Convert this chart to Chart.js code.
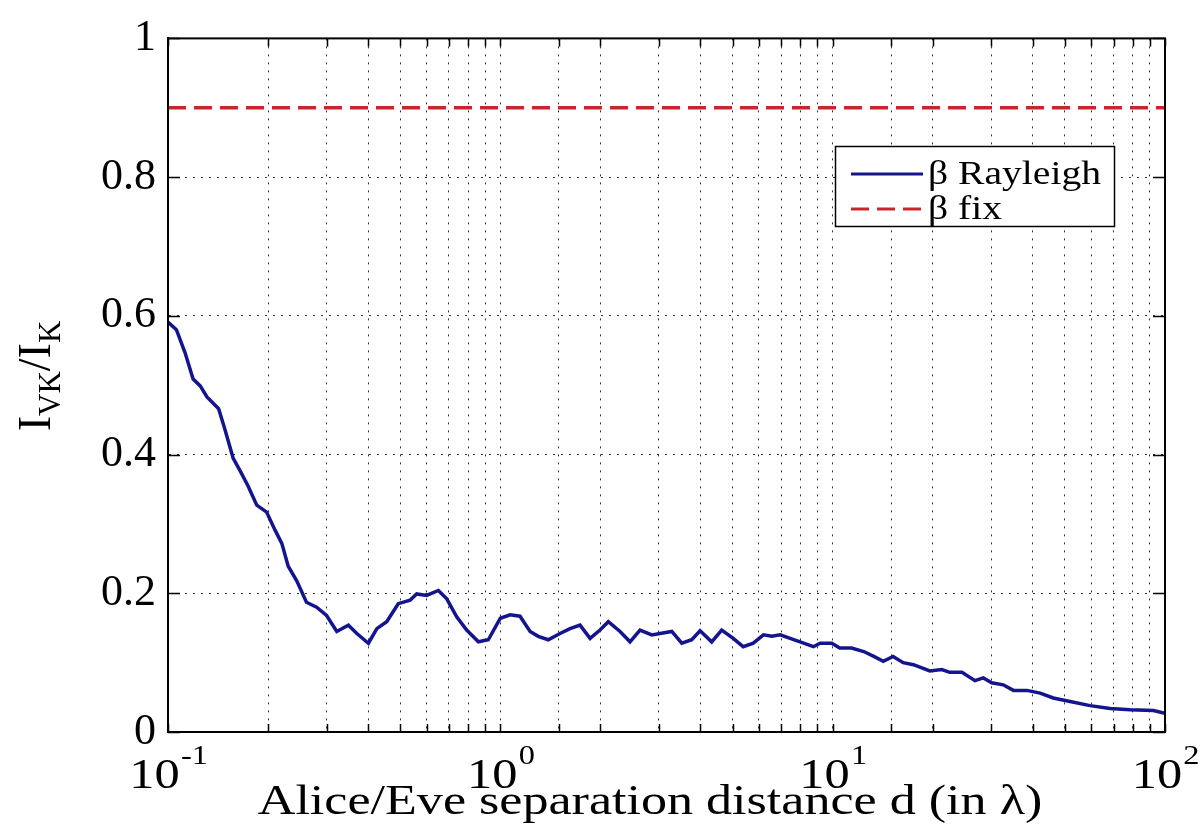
<!DOCTYPE html>
<html>
<head>
<meta charset="utf-8">
<script src="https://cdn.jsdelivr.net/npm/chart.js@4.4.0/dist/chart.umd.min.js"></script>
<style>
  html, body { margin: 0; padding: 0; background: #fff; }
  #wrap { width: 1200px; height: 826px; }
</style>
</head>
<body>
<div id="wrap"><canvas id="ivkChart" width="1200" height="826"></canvas></div>
<script>
// distance d (in lambda) and I_VK/I_K
const distD = [0.100, 0.106, 0.1125, 0.119, 0.125, 0.131, 0.142, 0.148, 0.157, 0.165,
  0.174, 0.185, 0.198, 0.210, 0.220, 0.230, 0.244, 0.261, 0.280, 0.300,
  0.322, 0.349, 0.370, 0.401, 0.425, 0.455, 0.493, 0.535, 0.560, 0.600,
  0.651, 0.690, 0.739, 0.792, 0.859, 0.920, 1.0, 1.07, 1.146, 1.229,
  1.30, 1.394, 1.512, 1.621, 1.737, 1.862, 1.995, 2.113, 2.292, 2.456,
  2.632, 2.856, 3.024, 3.28, 3.516, 3.767, 3.99, 4.325, 4.636, 5.02,
  5.38, 5.77, 6.19, 6.56, 6.95, 7.45, 7.98, 8.75, 9.17, 9.94,
  10.5, 11.4, 12.4, 13.3, 14.2, 15.2, 16.3, 17.5, 19.6, 21.3,
  22.5, 24.5, 26.8, 28.4, 30.1, 32.6, 35.0, 38.4, 42.1, 46.1,
  51.8, 59.5, 68.4, 78.5, 92.3, 100];
const ratioRayleigh = [0.591, 0.580, 0.547, 0.509, 0.499, 0.483, 0.466, 0.438, 0.395, 0.376,
  0.355, 0.327, 0.317, 0.291, 0.272, 0.239, 0.218, 0.187, 0.180, 0.168,
  0.145, 0.154, 0.142, 0.128, 0.149, 0.159, 0.185, 0.190, 0.199, 0.197,
  0.204, 0.192, 0.166, 0.147, 0.130, 0.133, 0.164, 0.169, 0.167, 0.145,
  0.138, 0.133, 0.142, 0.149, 0.154, 0.135, 0.147, 0.159, 0.145, 0.130,
  0.147, 0.140, 0.142, 0.145, 0.128, 0.133, 0.146, 0.130, 0.147, 0.135,
  0.123, 0.128, 0.140, 0.138, 0.140, 0.135, 0.130, 0.123, 0.128, 0.128,
  0.121, 0.121, 0.116, 0.109, 0.102, 0.109, 0.100, 0.097, 0.088, 0.090,
  0.086, 0.086, 0.074, 0.078, 0.071, 0.068, 0.060, 0.060, 0.056, 0.049,
  0.044, 0.038, 0.034, 0.032, 0.031, 0.027];
const fixD = [0.1, 100];
const ratioFix = [0.9, 0.9];

const seriesLabels = ['\u03B2 Rayleigh', '\u03B2 fix'];
const xDecades = [0.1, 1, 10, 100];
const xDecadeExp = ['-1', '0', '1', '2'];
const xTitle = 'Alice/Eve separation distance d (in \u03BB)';
const yTicks = [0, 0.2, 0.4, 0.6, 0.8, 1];

const serif = "'Liberation Serif', 'Times New Roman', serif";
const blue = '#14148f';
const red = '#c8262c';
const stretch = 1.2; // the figure is wider than tall, text is stretched a bit

function toPoints(xs, ys) {
  return xs.map((x, i) => ({ x: x, y: ys[i] }));
}

// frame, inner tick marks, axis texts and legend
const matlabLook = {
  id: 'matlabLook',
  afterDraw(chart) {
    const ctx = chart.ctx;
    const area = chart.chartArea;
    const xs = chart.scales.x;
    const ys = chart.scales.y;

    ctx.save();
    ctx.strokeStyle = '#000';
    ctx.lineWidth = 2;
    ctx.setLineDash([]);
    ctx.strokeRect(area.left, area.top, area.right - area.left, area.bottom - area.top);

    // tick marks pointing inwards
    ctx.lineWidth = 1.5;
    ctx.beginPath();
    xs.ticks.forEach(t => {
      const px = Math.round(xs.getPixelForValue(t.value)) + 0.5;
      ctx.moveTo(px, area.bottom);
      ctx.lineTo(px, area.bottom - 8);
      ctx.moveTo(px, area.top);
      ctx.lineTo(px, area.top + 8);
    });
    yTicks.forEach(v => {
      const py = Math.round(ys.getPixelForValue(v)) + 0.5;
      ctx.moveTo(area.left, py);
      ctx.lineTo(area.left + 12, py);
      ctx.moveTo(area.right, py);
      ctx.lineTo(area.right - 12, py);
    });
    ctx.stroke();

    // x decade labels 10^n
    ctx.fillStyle = '#000';
    ctx.textBaseline = 'alphabetic';
    xDecades.forEach((v, i) => {
      const px = xs.getPixelForValue(v);
      ctx.font = '42px ' + serif;
      const wBase = ctx.measureText('10').width * stretch;
      ctx.font = '27px ' + serif;
      const wExp = ctx.measureText(xDecadeExp[i]).width * stretch;
      const start = px - (wBase + wExp) / 2;
      ctx.save();
      ctx.translate(start, 788);
      ctx.scale(stretch, 1);
      ctx.font = '42px ' + serif;
      ctx.textAlign = 'left';
      ctx.fillText('10', 0, 0);
      ctx.font = '27px ' + serif;
      ctx.fillText(xDecadeExp[i], wBase / stretch + 1, -24);
      ctx.restore();
    });

    // x axis title
    ctx.save();
    ctx.translate(650, 814);
    ctx.scale(1.24, 1);
    ctx.font = '42px ' + serif;
    ctx.textAlign = 'center';
    ctx.fillText(xTitle, 0, 0);
    ctx.restore();

    // y axis title I_VK / I_K
    const parts = [
      { t: 'I', size: 46, dy: 0 },
      { t: 'VK', size: 31, dy: 10 },
      { t: '/', size: 46, dy: 0 },
      { t: 'I', size: 46, dy: 0 },
      { t: 'K', size: 31, dy: 10 }
    ];
    let total = 0;
    parts.forEach(p => {
      ctx.font = p.size + 'px ' + serif;
      p.w = ctx.measureText(p.t).width;
      total += p.w;
    });
    ctx.save();
    ctx.translate(50, 376);
    ctx.rotate(-Math.PI / 2);
    ctx.textAlign = 'left';
    let cx = -total / 2;
    parts.forEach(p => {
      ctx.font = p.size + 'px ' + serif;
      ctx.fillText(p.t, cx, p.dy);
      cx += p.w;
    });
    ctx.restore();

    // legend box inside the axes
    const box = { left: 835, top: 146, width: 279, height: 80 };
    ctx.fillStyle = '#fff';
    ctx.fillRect(box.left, box.top, box.width, box.height);
    ctx.strokeStyle = '#000';
    ctx.lineWidth = 1.5;
    ctx.strokeRect(box.left + 0.5, box.top + 0.5, box.width, box.height);
    const rows = [174, 209];
    chart.data.datasets.forEach((ds, i) => {
      ctx.save();
      ctx.strokeStyle = ds.borderColor;
      ctx.lineWidth = 3;
      ctx.setLineDash(ds.borderDash || []);
      ctx.beginPath();
      ctx.moveTo(851, rows[i]);
      ctx.lineTo(923, rows[i]);
      ctx.stroke();
      ctx.restore();
      ctx.save();
      ctx.translate(928, rows[i] + 10);
      ctx.scale(stretch, 1);
      ctx.fillStyle = '#000';
      ctx.font = '33px ' + serif;
      ctx.textAlign = 'left';
      ctx.fillText(ds.label, 0, 0);
      ctx.restore();
    });
    ctx.restore();
  }
};

const ivkChart = new Chart(document.getElementById('ivkChart'), {
  type: 'line',
  data: {
    datasets: [{
      label: seriesLabels[0],
      data: toPoints(distD, ratioRayleigh),
      borderColor: blue,
      borderWidth: 3.5,
      pointRadius: 0,
      tension: 0,
      fill: false
    }, {
      label: seriesLabels[1],
      data: toPoints(fixD, ratioFix),
      borderColor: red,
      borderWidth: 3.5,
      borderDash: [18, 8],
      pointRadius: 0,
      tension: 0,
      fill: false
    }]
  },
  options: {
    responsive: false,
    animation: false,
    devicePixelRatio: 1,
    layout: { padding: { left: 0, top: 27, right: 35, bottom: 94 } },
    plugins: {
      legend: { display: false },
      tooltip: { enabled: false }
    },
    scales: {
      x: {
        type: 'logarithmic',
        min: 0.1,
        max: 100,
        ticks: { display: false, autoSkip: false },
        grid: { color: '#333', lineWidth: 1, drawTicks: false },
        border: { display: true, color: '#000', width: 2, dash: [2, 6] }
      },
      y: {
        min: 0,
        max: 1,
        afterFit(scale) { scale.width = 168; },
        ticks: {
          stepSize: 0.2,
          padding: 12,
          color: '#000',
          font: { family: serif, size: 44 },
          callback: v => String(Math.round(v * 10) / 10)
        },
        grid: { color: '#333', lineWidth: 1, drawTicks: false },
        border: { display: true, color: '#000', width: 2, dash: [2, 6] }
      }
    }
  },
  plugins: [matlabLook]
});
</script>
</body>
</html>
